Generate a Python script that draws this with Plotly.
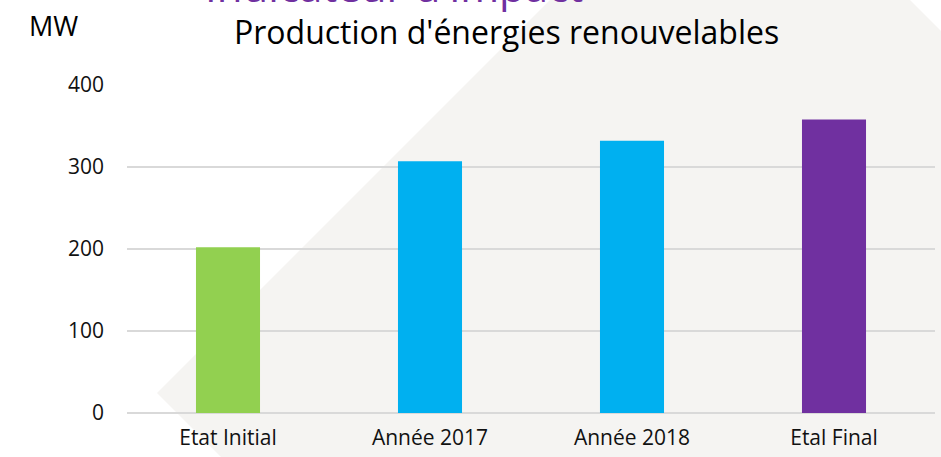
import plotly.graph_objects as go

categories = ["Etat Initial", "Année 2017", "Année 2018", "Etal Final"]
values = [202, 307, 332, 358]
colors = ["#92D050", "#00B0F0", "#00B0F0", "#7030A0"]
y_ticks = [0, 100, 200, 300, 400]

W, H = 941, 457
L, R, T, B = 127, 6, 85, 44
PW, PH = W - L - R, H - T - B

def px(x, y):
    return (x - L) / PW, (H - B - y) / PH

FONT = "'Open Sans', 'Noto Sans', sans-serif"

fig = go.Figure(go.Bar(
    x=categories, y=values, marker=dict(color=colors, line=dict(width=0)),
    width=0.317, hoverinfo="x+y",
))

# background diamond decoration
pts = [(730, -180), (1455, 545), (882, 1118), (157, 393)]
pp = [px(*p) for p in pts]
path = "M " + " L ".join(f"{a:.4f},{b:.4f}" for a, b in pp) + " Z"
fig.add_shape(type="path", path=path, xref="paper", yref="paper",
              fillcolor="#F5F4F2", line=dict(width=0), layer="below")

tx, ty = px(53, 26)
mx, my = px(506, 32)
ix, iy = px(394, -14.5)
fig.add_annotation(text="MW", x=tx, y=ty, xref="paper", yref="paper",
                   xanchor="center", yanchor="middle", showarrow=False,
                   font=dict(family=FONT, size=27, color="#000000"))
fig.add_annotation(text="Production d'énergies renouvelables", x=mx, y=my,
                   xref="paper", yref="paper", xanchor="center", yanchor="middle",
                   showarrow=False, font=dict(family=FONT, size=32, color="#000000"))
fig.add_annotation(text="Indicateur d'impact", x=ix, y=iy, xref="paper", yref="paper",
                   xanchor="center", yanchor="middle", showarrow=False,
                   font=dict(family=FONT, size=42, color="#7030A0"))

fig.update_layout(
    width=W, height=H,
    margin=dict(l=L, r=R, t=T, b=B, pad=0),
    paper_bgcolor="white", plot_bgcolor="rgba(0,0,0,0)",
    showlegend=False,
    font=dict(family=FONT, size=21, color="#111111"),
)
fig.update_yaxes(range=[0, 400], tickvals=y_ticks, showgrid=True, gridcolor="#D9D9D9",
                 gridwidth=1.5, zeroline=True, zerolinecolor="#D9D9D9", zerolinewidth=1.5,
                 showline=False, ticklabelstandoff=22, tickfont=dict(size=21))
fig.update_xaxes(showgrid=False, showline=False, ticklabelstandoff=10, tickfont=dict(size=21))

fig.write_html("out.html", config={"displayModeBar": False},
               post_script="document.body.style.margin='0';document.documentElement.style.overflow='hidden';")
